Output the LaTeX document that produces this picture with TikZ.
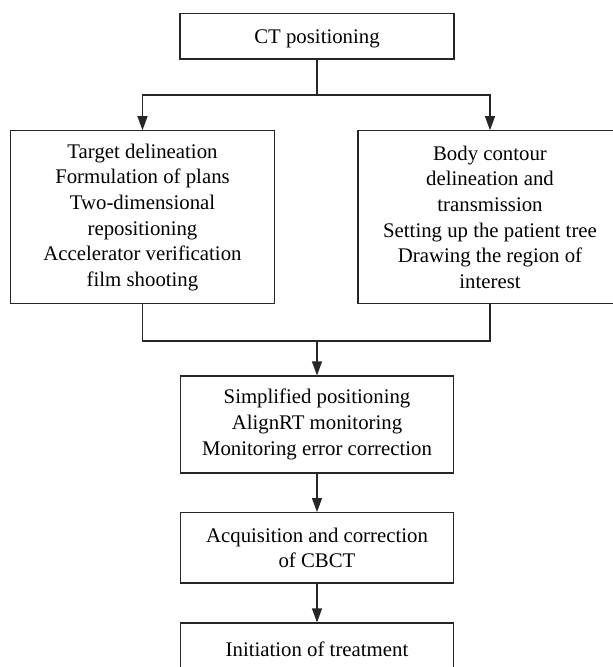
\documentclass[tikz,border=0pt]{standalone}
\usepackage{fontspec}
\setmainfont{Liberation Serif}
\usetikzlibrary{arrows.meta}
\begin{document}
\begin{tikzpicture}[x=1pt,y=-1pt,
  box/.style={draw=black!85, line width=1.2pt, rectangle, inner sep=0pt, align=center,
    font=\fontsize{20.8}{25.7}\selectfont, execute at begin node={\rule{0pt}{20pt}}},
  arr/.style={-{Triangle[length=14pt,width=10pt]}},
  line/.style={draw=black!85, line width=1.2pt}]
\useasboundingbox (0,0) rectangle (613,667);
\clip (0,0) rectangle (613,667);
\node[box, minimum width=274pt, minimum height=45.7pt] (ct) at (317,36.2) {CT positioning};
\node[box, minimum width=263.3pt, minimum height=173pt] (left) at (142.5,217.3)
  {Target delineation\\Formulation of plans\\Two-dimensional\\repositioning\\Accelerator verification\\film shooting};
\node[box, minimum width=264pt, minimum height=173pt] (right) at (490,217.3)
  {Body contour\\delineation and\\transmission\\Setting up the patient tree\\Drawing the region of\\interest};
\node[box, minimum width=273pt, minimum height=97pt] (simp) at (317,424.5)
  {Simplified positioning\\AlignRT monitoring\\Monitoring error correction};
\node[box, minimum width=273pt, minimum height=70.3pt] (acq) at (317,547.8)
  {Acquisition and correction\\of CBCT};
\node[box, minimum width=273pt, minimum height=48pt] (init) at (317,647)
  {Initiation of treatment};
\coordinate (j1) at (317,95);
\coordinate (j2) at (317,341);
\draw[line] (ct.south) -- (j1);
\draw[line,arr] (j1) -| (left.north);
\draw[line,arr] (j1) -| (right.north);
\draw[line] (left.south) |- (j2);
\draw[line] (right.south) |- (j2);
\draw[line,arr] (j2) -- (simp.north);
\draw[line,arr] (simp.south) -- (acq.north);
\draw[line,arr] (acq.south) -- (init.north);
\end{tikzpicture}
\end{document}
